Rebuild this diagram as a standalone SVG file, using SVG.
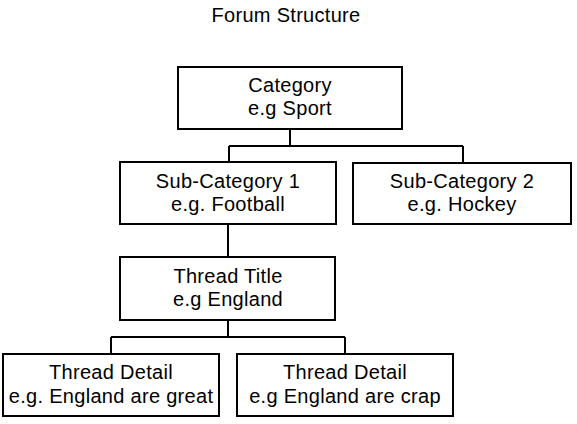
<svg xmlns="http://www.w3.org/2000/svg" width="577" height="424" viewBox="0 0 577 424">
<style>
.box{fill:#fff;stroke:#000;stroke-width:2}
.ln{fill:none;stroke:#000;stroke-width:2}
text{font-family:"Liberation Sans",Arial,sans-serif;font-size:20px;letter-spacing:0.3px;fill:#000;text-anchor:middle}
</style>
<rect width="577" height="424" fill="#fff"/>
<text x="286" y="22">Forum Structure</text>
<g id="connectors">
<path class="ln" d="M290 129V146M229 146H463M229 146V162M463 146V163"/>
<path class="ln" d="M228 224V257"/>
<path class="ln" d="M228 320V337M111 337H345M111 337V354M345 337V354"/>
</g>
<g id="category">
<rect class="box" x="178" y="67" width="224" height="62"/>
<text x="290" y="92">Category</text>
<text x="290" y="115">e.g Sport</text>
</g>
<g id="sub1">
<rect class="box" x="120" y="162" width="216" height="62"/>
<text x="228" y="188">Sub-Category 1</text>
<text x="228" y="211">e.g. Football</text>
</g>
<g id="sub2">
<rect class="box" x="353" y="163" width="218" height="61"/>
<text x="462" y="188">Sub-Category 2</text>
<text x="462" y="211">e.g. Hockey</text>
</g>
<g id="thread">
<rect class="box" x="120" y="257" width="215" height="63"/>
<text x="228" y="283">Thread Title</text>
<text x="228" y="306">e.g England</text>
</g>
<g id="detail1">
<rect class="box" x="3" y="354" width="216" height="62"/>
<text x="111" y="379">Thread Detail</text>
<text x="111" y="403">e.g. England are great</text>
</g>
<g id="detail2">
<rect class="box" x="237" y="354" width="216" height="62"/>
<text x="345" y="379">Thread Detail</text>
<text x="345" y="403">e.g England are crap</text>
</g>
</svg>
